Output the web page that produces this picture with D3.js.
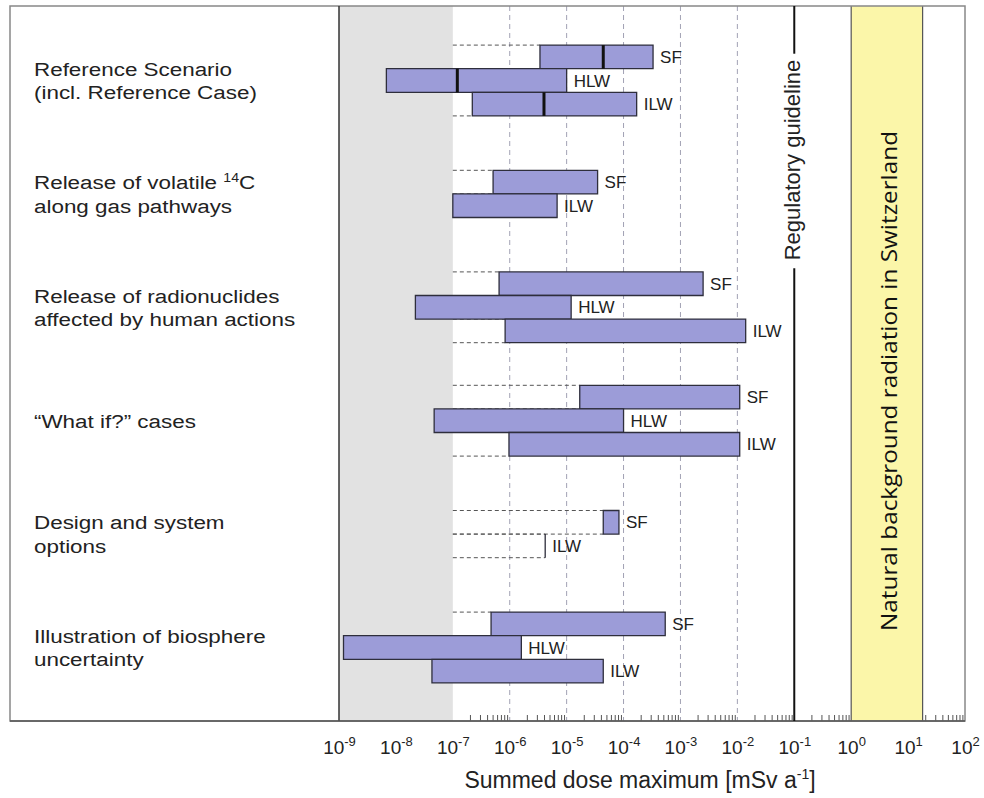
<!DOCTYPE html>
<html>
<head>
<meta charset="utf-8">
<script src="https://cdn.jsdelivr.net/npm/d3@7"></script>
<style>
  body { margin: 0; background: #fff; }
  svg { display: block; font-family: "Liberation Sans", Arial, sans-serif; }
</style>
</head>
<body>
<svg id="chart" width="984" height="798"></svg>
<script>
/*** DATA ***/
// scenario labels, one entry per line; ^{..} marks a superscript
var scenarios = [
  ["Reference Scenario", "(incl. Reference Case)"],
  ["Release of volatile ^{14}C", "along gas pathways"],
  ["Release of radionuclides", "affected by human actions"],
  ["\u201CWhat if?\u201D cases"],
  ["Design and system", "options"],
  ["Illustration of biosphere", "uncertainty"]
];
var wasteTypes = [
  ["SF", "HLW", "ILW"],
  ["SF", "ILW"],
  ["SF", "HLW", "ILW"],
  ["SF", "HLW", "ILW"],
  ["SF", "ILW"],
  ["SF", "HLW", "ILW"]
];
// summed dose maximum, lower and upper end of each range [mSv/a]
var doseMin = [
  [3.4e-6, 6.8e-9, 2.2e-7],
  [5.1e-7, 1.0e-7],
  [6.5e-7, 2.2e-8, 8.3e-7],
  [1.7e-5, 4.7e-8, 9.7e-7],
  [4.4e-5, 4.2e-6],
  [4.7e-7, 1.2e-9, 4.3e-8]
];
var doseMax = [
  [3.3e-4, 1.0e-5, 1.7e-4],
  [3.5e-5, 6.8e-6],
  [2.5e-3, 1.2e-5, 1.4e-2],
  [1.1e-2, 1.0e-4, 1.1e-2],
  [8.3e-5, 4.2e-6],
  [5.4e-4, 1.6e-6, 4.4e-5]
];
// Reference Case values (first scenario only)
var referenceCase = [4.4e-5, 1.2e-7, 4.0e-6];

var decades = [1e-9, 1e-8, 1e-7, 1e-6, 1e-5, 1e-4, 1e-3, 1e-2, 1e-1, 1e0, 1e1, 1e2];
var decadeExp = ["-9", "-8", "-7", "-6", "-5", "-4", "-3", "-2", "-1", "0", "1", "2"];
var belowRelevance = [1e-9, 1e-7];
var regulatoryGuideline = 0.1;
var naturalBackground = [1, 18];

/*** LAYOUT ***/
var frame = {left: 10, top: 6, right: 965, bottom: 721},
    plotLeft = 339,
    barH = 23.6,
    textCol = "#222",
    barFill = "#9c9cd8",
    barStroke = "#2e2e3c";

var svg = d3.select("#chart");

var x = d3.scaleLog()
  .domain([decades[0], decades[decades.length - 1]])
  .range([plotLeft, frame.right]);

var y = d3.scalePoint()
  .domain(d3.range(scenarios.length))
  .range([80.5, 647.5]);

// bar records
var bars = [];
scenarios.forEach(function(s, gi) {
  var n = wasteTypes[gi].length;
  wasteTypes[gi].forEach(function(w, i) {
    bars.push({
      group: gi, type: w,
      lo: doseMin[gi][i], hi: doseMax[gi][i],
      ref: gi === 0 ? referenceCase[i] : null,
      y0: y(gi) - n * barH / 2 + i * barH
    });
  });
});

// minor ticks (drawn first so shaded bands cover them)
var minor = x.ticks(30).filter(function(v) {
  var e = Math.log10(v);
  return v >= belowRelevance[1] && Math.abs(e - Math.round(e)) > 1e-6;
});
var minorAxis = svg.append("g")
  .attr("transform", "translate(0," + frame.bottom + ")")
  .call(d3.axisBottom(x).tickValues(minor).tickSize(-6).tickFormat(""));
minorAxis.select(".domain").remove();
minorAxis.selectAll("line").attr("stroke", "#555");

// grey region below 1e-7
svg.append("rect")
  .attr("x", x(belowRelevance[0])).attr("y", frame.top)
  .attr("width", x(belowRelevance[1]) - x(belowRelevance[0]))
  .attr("height", frame.bottom - frame.top)
  .attr("fill", "#e2e2e2");

// natural background band
svg.append("rect")
  .attr("x", x(naturalBackground[0])).attr("y", frame.top)
  .attr("width", x(naturalBackground[1]) - x(naturalBackground[0]))
  .attr("height", frame.bottom - frame.top)
  .attr("fill", "#fbf6a9");
svg.append("g").selectAll("line").data(naturalBackground).enter()
  .append("line")
    .attr("x1", d => x(d)).attr("x2", d => x(d))
    .attr("y1", frame.top).attr("y2", frame.bottom)
    .attr("stroke", "#555").attr("stroke-width", 1.2);

// dashed decade gridlines
svg.append("g").selectAll("line")
  .data(decades.filter(d => d > belowRelevance[1] && d < regulatoryGuideline))
  .enter().append("line")
    .attr("x1", d => x(d)).attr("x2", d => x(d))
    .attr("y1", frame.top).attr("y2", frame.bottom)
    .attr("stroke", "#a2a2b4")
    .attr("stroke-width", 1)
    .attr("stroke-dasharray", "5,4");

// dashed extensions from 1e-7 to the start of each bar
var ext = bars.filter(b => b.lo > belowRelevance[1]);
var extG = svg.append("g");
[0, 1].forEach(function(edge) {
  extG.selectAll(null).data(ext).enter().append("line")
    .attr("x1", x(belowRelevance[1])).attr("x2", d => x(d.lo))
    .attr("y1", d => d.y0 + edge * barH).attr("y2", d => d.y0 + edge * barH)
    .attr("stroke", "#555")
    .attr("stroke-width", 1)
    .attr("stroke-dasharray", "4,3");
});

// bars
svg.append("g").selectAll("path").data(bars).enter()
  .append("path")
    .attr("d", d => "M" + x(d.lo) + "," + d.y0 + "H" + x(d.hi) + "V" + (d.y0 + barH) + "H" + x(d.lo) + "Z")
    .attr("fill", barFill)
    .attr("stroke", barStroke)
    .attr("stroke-width", 1.3);

// Reference Case markers
svg.append("g").selectAll("line").data(bars.filter(b => b.ref !== null)).enter()
  .append("line")
    .attr("x1", d => x(d.ref)).attr("x2", d => x(d.ref))
    .attr("y1", d => d.y0).attr("y2", d => d.y0 + barH)
    .attr("stroke", "#111").attr("stroke-width", 3);

// waste type labels
svg.append("g").selectAll("text").data(bars).enter()
  .append("text")
    .attr("x", d => x(d.hi) + 7)
    .attr("y", d => d.y0 + barH / 2)
    .attr("dy", "0.36em")
    .attr("font-size", 17)
    .attr("fill", textCol)
    .text(d => d.type);

// frame
svg.append("rect")
  .attr("x", frame.left).attr("y", frame.top)
  .attr("width", frame.right - frame.left)
  .attr("height", frame.bottom - frame.top)
  .attr("fill", "none")
  .attr("stroke", "#888").attr("stroke-width", 1.5);
svg.append("line")
  .attr("x1", plotLeft).attr("x2", plotLeft)
  .attr("y1", frame.top).attr("y2", frame.bottom)
  .attr("stroke", "#333").attr("stroke-width", 1.5);
svg.append("line")
  .attr("x1", frame.left).attr("x2", frame.right)
  .attr("y1", frame.bottom).attr("y2", frame.bottom)
  .attr("stroke", "#555").attr("stroke-width", 1.5);

// regulatory guideline: text with the line broken around it
var regX = x(regulatoryGuideline),
    regCy = 160;
var regText = svg.append("text")
  .attr("transform", "translate(" + (regX + 6) + "," + regCy + ") rotate(-90)")
  .attr("text-anchor", "middle")
  .attr("font-size", 22)
  .attr("fill", textCol)
  .text("Regulatory guideline");
var regLen = regText.node().getComputedTextLength();
svg.append("g").selectAll("line")
  .data([[frame.top, regCy - regLen / 2 - 6], [regCy + regLen / 2 + 8, frame.bottom]])
  .enter().append("line")
    .attr("x1", regX).attr("x2", regX)
    .attr("y1", d => d[0]).attr("y2", d => d[1])
    .attr("stroke", "#111").attr("stroke-width", 2);

// natural background label
var bgX = (x(naturalBackground[0]) + x(naturalBackground[1])) / 2;
svg.append("text")
  .attr("transform", "translate(" + (bgX + 10) + ",381) rotate(-90)")
  .attr("text-anchor", "middle")
  .attr("font-family", "'Open Sans', sans-serif")
  .attr("font-size", 21)
  .attr("textLength", 500)
  .attr("lengthAdjust", "spacingAndGlyphs")
  .attr("fill", "#111")
  .text("Natural background radiation in Switzerland");

// decade labels
var labAxis = svg.append("g")
  .attr("transform", "translate(0," + frame.bottom + ")")
  .call(d3.axisBottom(x).tickValues(decades).tickSize(0).tickPadding(20).tickFormat(() => "10"));
labAxis.select(".domain").remove();
labAxis.attr("font-family", null).attr("font-size", 19);
labAxis.selectAll("text").attr("fill", textCol)
  .append("tspan")
    .attr("font-size", 13)
    .attr("dy", -8)
    .text((d, i) => decadeExp[i]);

// axis title
var title = svg.append("text")
  .attr("x", 640)
  .attr("y", 788)
  .attr("text-anchor", "middle")
  .attr("font-size", 23)
  .attr("fill", textCol);
title.append("tspan").text("Summed dose maximum [mSv a");
title.append("tspan").attr("font-size", 14).attr("dy", -9).text("-1");
title.append("tspan").attr("dy", 9).text("]");

// scenario labels (source text is slightly wide)
var lineH = 23.5;
var labs = svg.append("g").selectAll("text").data(scenarios).enter()
  .append("text")
    .attr("transform", (d, i) => "translate(34," + (y(i) - (d.length - 1) * lineH / 2 + 7) + ") scale(1.18,1)")
    .attr("font-size", 19)
    .attr("fill", textCol);
labs.each(function(lines) {
  var t = d3.select(this);
  lines.forEach(function(line, li) {
    var m = line.match(/^(.*)\^\{(.*)\}(.*)$/);
    var first = t.append("tspan").attr("x", 0).attr("dy", li === 0 ? 0 : lineH);
    if (m) {
      first.text(m[1]);
      t.append("tspan").attr("font-size", 12).attr("dy", -7).text(m[2]);
      t.append("tspan").attr("dy", 7).text(m[3]);
    } else {
      first.text(line);
    }
  });
});
</script>
</body>
</html>
